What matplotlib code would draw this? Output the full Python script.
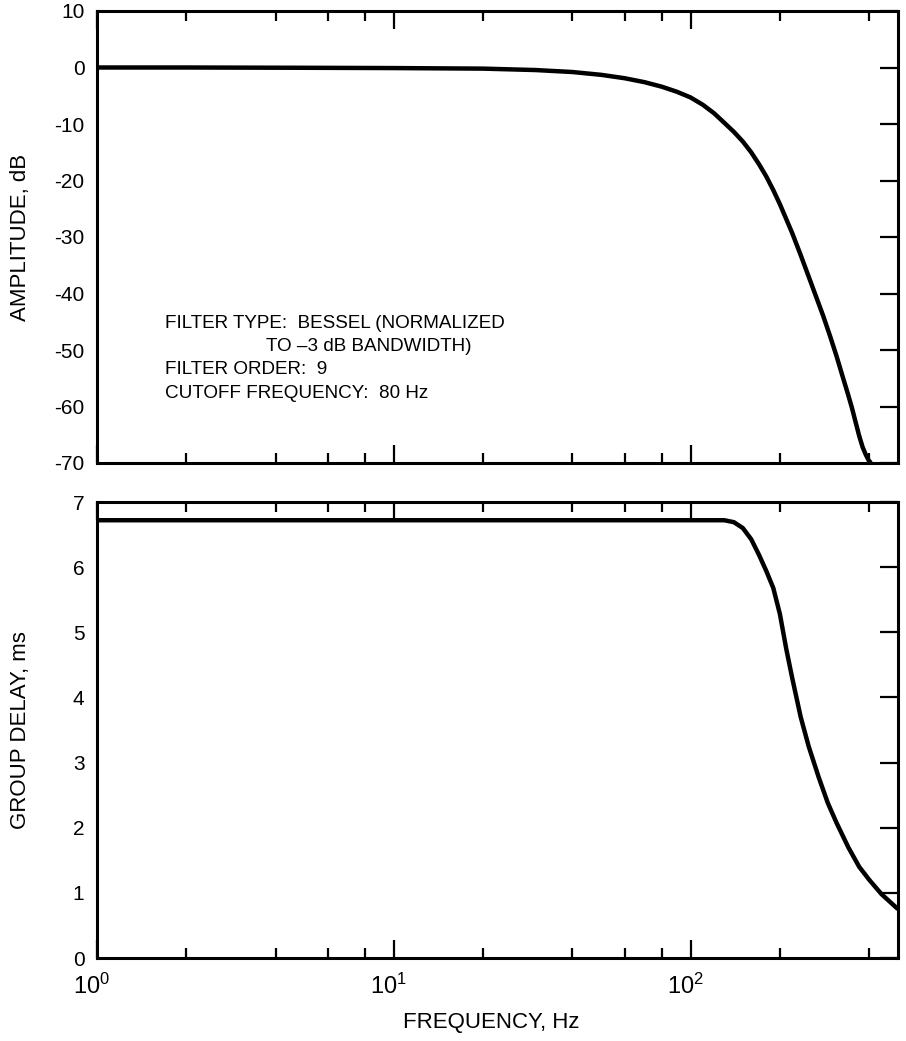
import matplotlib
matplotlib.use("Agg")
import matplotlib.pyplot as plt
from matplotlib import transforms
from matplotlib.ticker import FixedLocator, NullFormatter, FixedFormatter

plt.rcParams['font.family'] = ['Liberation Sans', 'DejaVu Sans']
plt.rcParams['axes.unicode_minus'] = False
plt.rcParams['mathtext.fontset'] = 'custom'
plt.rcParams['mathtext.rm'] = 'Liberation Sans'
plt.rcParams['mathtext.it'] = 'Liberation Sans'

# ---- data ----
amp_freq = [1, 2, 5, 10, 20, 30, 40, 50, 60, 70, 80, 90, 100, 110, 120, 130,
            140, 150, 160, 170, 180, 190, 200, 210, 220, 235, 250, 265, 280,
            295, 310, 325, 340, 350, 360, 370, 380, 390, 398, 405]
amp_db = [0.0, 0.0, -0.05, -0.1, -0.2, -0.45, -0.8, -1.3, -1.9, -2.6, -3.4,
          -4.3, -5.3, -6.6, -8.1, -9.8, -11.4, -13.1, -15.0, -17.1, -19.3,
          -21.7, -24.2, -26.8, -29.3, -33.2, -37.0, -40.6, -44.0, -47.5,
          -51.0, -54.6, -58.0, -60.3, -62.8, -65.2, -67.2, -68.6, -69.5, -70.0]

gd_freq = [1, 10, 50, 100, 130, 140, 150, 160, 170, 180, 190, 200, 210, 220,
           235, 250, 270, 290, 310, 340, 370, 400, 440, 500]
gd_ms = [6.72, 6.72, 6.72, 6.72, 6.72, 6.69, 6.6, 6.43, 6.19, 5.94, 5.68,
         5.28, 4.75, 4.3, 3.7, 3.25, 2.78, 2.38, 2.08, 1.7, 1.4, 1.2, 0.98,
         0.75]

amp_ticks = [10, 0, -10, -20, -30, -40, -50, -60, -70]
gd_ticks = [0, 1, 2, 3, 4, 5, 6, 7]
major_x = [1, 10, 100]
major_x_labels = [r'$\mathregular{10^0}$', r'$\mathregular{10^1}$',
                  r'$\mathregular{10^2}$']
minor_x = [2, 4, 6, 8, 20, 40, 60, 80, 200, 400]

info_lines = ["FILTER TYPE:  BESSEL (NORMALIZED",
              "TO \u20133 dB BANDWIDTH)",
              "FILTER ORDER:  9",
              "CUTOFF FREQUENCY:  80 Hz"]

W, H = 906, 1041
fig = plt.figure(figsize=(W / 100, H / 100), dpi=100)

left = 97 / W
width = (898 - 97) / W
ax1 = fig.add_axes([left, 1 - 463 / H, width, (463 - 11) / H])
ax2 = fig.add_axes([left, 1 - 958 / H, width, (958 - 502) / H])

for ax in (ax1, ax2):
    ax.set_xscale('log')
    ax.set_xlim(1, 500)
    for s in ax.spines.values():
        s.set_linewidth(2.2)
    ax.xaxis.set_major_locator(FixedLocator(major_x))
    ax.xaxis.set_minor_locator(FixedLocator(minor_x))
    ax.tick_params(axis='x', which='major', direction='in', top=True,
                   bottom=True, length=13, width=1.6)
    ax.tick_params(axis='x', which='minor', direction='in', top=True,
                   bottom=True, length=7, width=1.6)
    ax.tick_params(axis='y', which='major', direction='in', left=False,
                   right=True, length=13, width=1.6, pad=9)

ax1.plot(amp_freq, amp_db, color='black', lw=3.2, solid_capstyle='butt')
ax1.set_ylim(-70, 10)
ax1.set_yticks(amp_ticks)
ax1.set_yticklabels([str(t) for t in amp_ticks], fontsize=15)
ax1.xaxis.set_major_formatter(NullFormatter())
ax1.xaxis.set_minor_formatter(NullFormatter())
ax1.set_ylabel("AMPLITUDE, dB", fontsize=16)
ax1.yaxis.set_label_coords(-0.083, 0.5)

ax2.plot(gd_freq, gd_ms, color='black', lw=3.2, solid_capstyle='butt')
ax2.set_ylim(0, 7)
ax2.set_yticks(gd_ticks)
ax2.set_yticklabels([str(t) for t in gd_ticks], fontsize=15)
ax2.xaxis.set_major_formatter(FixedFormatter(major_x_labels))
ax2.xaxis.set_minor_formatter(NullFormatter())
ax2.tick_params(axis='x', which='major', labelsize=17, pad=11)
offset = transforms.ScaledTranslation(-5 / 100, 0, fig.dpi_scale_trans)
for lab in ax2.get_xticklabels():
    lab.set_transform(lab.get_transform() + offset)
ax2.set_ylabel("GROUP DELAY, ms", fontsize=16)
ax2.yaxis.set_label_coords(-0.083, 0.5)
ax2.set_xlabel("FREQUENCY, Hz", fontsize=16)
ax2.xaxis.set_label_coords(0.492, -0.118)

# annotation block
xs = [0.085, 0.211, 0.085, 0.085]
ys = [0.308, 0.258, 0.207, 0.154]
for t, x, y in zip(info_lines, xs, ys):
    ax1.text(x, y, t, transform=ax1.transAxes, fontsize=13.6, va='center',
             ha='left')

fig.savefig("out.png", dpi=100)
